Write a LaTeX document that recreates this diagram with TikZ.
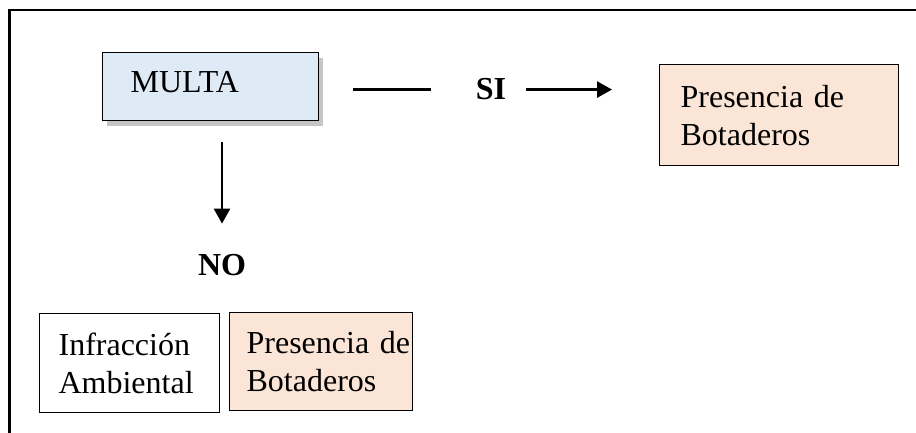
\documentclass[tikz,border=0pt]{standalone}
\usepackage{fontspec}
\setmainfont{Liberation Serif}
\usetikzlibrary{arrows.meta,shadows}
\definecolor{multablue}{HTML}{DEEBF7}
\definecolor{botpeach}{HTML}{FBE5D6}
\begin{document}
\begin{tikzpicture}[x=1pt,y=-1pt,
  box/.style={draw,line width=1.2pt,inner ysep=0pt,align=left,anchor=north west,
    font=\fontsize{32}{38}\selectfont},
  tag/.style={inner sep=0pt,font=\fontsize{32}{38}\selectfont\bfseries},
  conn/.style={line width=2.6pt},
  arrow/.style={conn,-{Triangle[length=15pt,width=16pt]}}]
\useasboundingbox (0,0) rectangle (916,433);
\draw[line width=2.6pt] (9.5,433) -- (9.5,10) -- (916,10);
\node[box,fill=multablue,inner xsep=28pt,text width=160pt,minimum height=68pt,text depth=10pt,
  drop shadow={shadow xshift=4pt,shadow yshift=-5pt,fill=black!45}]
  (multa) at (102,52) {MULTA};
\node[box,fill=botpeach,inner xsep=21pt,text width=197pt,minimum height=101pt]
  (botTop) at (659,64) {Presencia~de\\Botaderos};
\node[box,fill=white,inner xsep=19pt,text width=142pt,minimum height=99pt]
  (infra) at (39,313) {Infracción\\Ambiental};
\node[box,fill=botpeach,inner xsep=17pt,text width=149pt,minimum height=98pt]
  (botLow) at (229,312) {Presencia~de\\Botaderos};
\node[tag,anchor=base] (si) at (491,100) {SI};
\node[tag,anchor=base] (no) at (222,275) {NO};
\draw[conn,shorten <=34pt,shorten >=45pt] (multa.east |- si.west) -- (si.west);
\draw[arrow,shorten <=20pt,shorten >=47pt] (si.east) -- (si.east -| botTop.west);
\draw[arrow,shorten <=21pt,shorten >=30pt] (no |- multa.south) -- (no.north);
\end{tikzpicture}
\end{document}
